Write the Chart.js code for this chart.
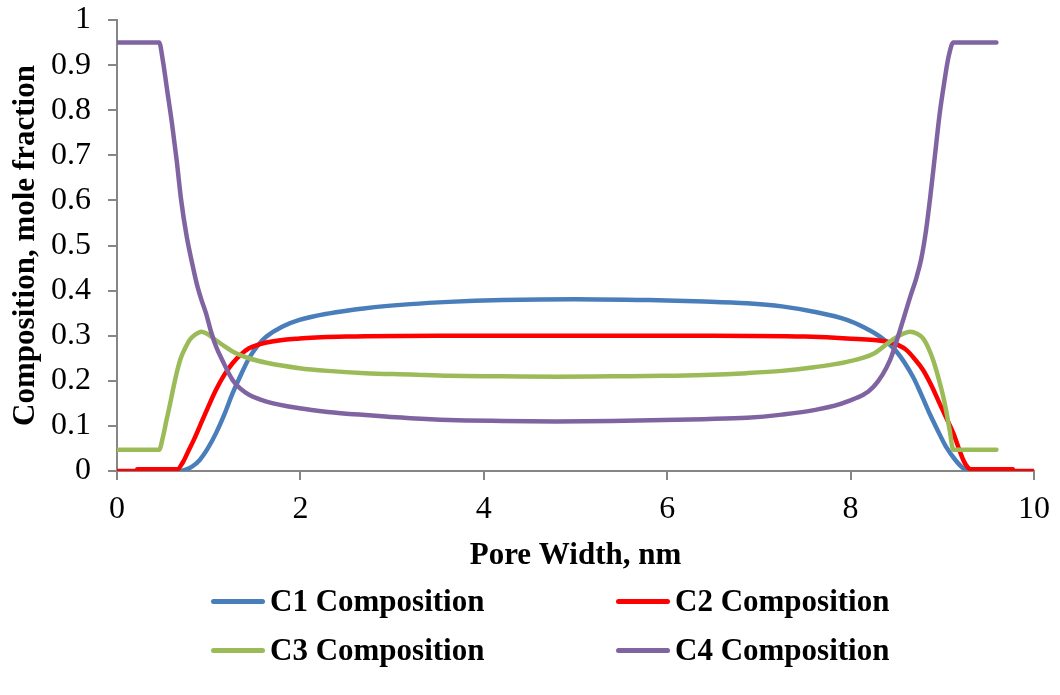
<!DOCTYPE html>
<html>
<head>
<meta charset="utf-8">
<title>Pore composition profile</title>
<script src="https://cdn.jsdelivr.net/npm/chart.js@4.4.1/dist/chart.umd.min.js"></script>
<style>
  body { margin: 0; background: #fff; }
  #wrap { position: relative; width: 1060px; height: 695px; }
  #legend {
    position: absolute; left: 0; top: 0; width: 100%; height: 100%;
    pointer-events: none;
    font: bold 31px "Liberation Serif", "Times New Roman", serif;
    color: #000;
  }
  .item { position: absolute; display: flex; align-items: center; height: 40px; white-space: nowrap; }
  .swatch { width: 54px; height: 5px; border-radius: 3px; margin-right: 5px; }
</style>
</head>
<body>
<div id="wrap">
  <canvas id="poreChart" width="1060" height="695"></canvas>
  <div id="legend"></div>
</div>
<script>
// composition profiles across the slit pore (x in nm, y in mole fraction)
const seriesNames = ["C1 Composition", "C2 Composition", "C3 Composition", "C4 Composition"];
const seriesColors = ["#4A7EBB", "#FF0000", "#9BBB59", "#8064A2"];

const c1X = [0.22, 0.68, 0.75, 0.82, 0.90, 0.99, 1.08, 1.17, 1.26, 1.35, 1.44, 1.53, 1.63, 1.80, 1.99, 2.3, 2.71, 3.2, 3.62, 4.2, 5.0, 5.8, 6.4, 6.87, 7.25, 7.60, 7.96, 8.15, 8.32, 8.50, 8.68, 8.77, 8.86, 8.95, 9.04, 9.14, 9.23, 9.31, 9.77];
const c1Y = [0, 0, 0.003, 0.01, 0.024, 0.05, 0.084, 0.125, 0.172, 0.213, 0.25, 0.277, 0.298, 0.32, 0.335, 0.349, 0.361, 0.370, 0.375, 0.379, 0.381, 0.379, 0.376, 0.372, 0.365, 0.353, 0.335, 0.318, 0.298, 0.265, 0.209, 0.17, 0.128, 0.09, 0.054, 0.025, 0.006, 0, 0];

const c2X = [0, 0.21, 0.22, 0.66, 0.72, 0.78, 0.84, 0.90, 0.99, 1.08, 1.17, 1.26, 1.35, 1.44, 1.63, 1.99, 2.5, 3.5, 5.0, 6.5, 7.5, 7.96, 8.39, 8.52, 8.61, 8.70, 8.79, 8.88, 8.97, 9.05, 9.12, 9.18, 9.23, 9.27, 9.31, 9.77, 9.78, 10];
const c2Y = [0, 0, 0.004, 0.004, 0.02, 0.045, 0.07, 0.098, 0.14, 0.18, 0.213, 0.239, 0.258, 0.272, 0.285, 0.294, 0.298, 0.300, 0.300, 0.300, 0.298, 0.294, 0.287, 0.279, 0.268, 0.248, 0.224, 0.19, 0.15, 0.115, 0.084, 0.05, 0.024, 0.01, 0.004, 0.004, 0, 0];

const c3X = [0, 0.46, 0.50, 0.54, 0.58, 0.61, 0.66, 0.70, 0.75, 0.79, 0.85, 0.92, 1.00, 1.08, 1.17, 1.26, 1.44, 1.63, 1.99, 2.3, 2.71, 3.2, 3.62, 4.2, 4.79, 5.4, 5.96, 6.4, 6.87, 7.25, 7.60, 7.96, 8.25, 8.43, 8.55, 8.65, 8.72, 8.79, 8.85, 8.90, 8.96, 9.01, 9.05, 9.08, 9.12, 9.59];
const c3Y = [0.047, 0.047, 0.075, 0.113, 0.15, 0.18, 0.225, 0.253, 0.275, 0.29, 0.302, 0.309, 0.302, 0.29, 0.277, 0.265, 0.25, 0.24, 0.228, 0.222, 0.217, 0.214, 0.211, 0.21, 0.209, 0.21, 0.211, 0.213, 0.217, 0.222, 0.23, 0.242, 0.26, 0.287, 0.302, 0.309, 0.305, 0.294, 0.272, 0.246, 0.205, 0.165, 0.125, 0.091, 0.047, 0.047];

const c4X = [0, 0.46, 0.50, 0.55, 0.60, 0.65, 0.70, 0.76, 0.82, 0.87, 0.92, 0.97, 1.03, 1.08, 1.15, 1.26, 1.35, 1.44, 1.63, 1.99, 2.3, 2.71, 3.2, 3.62, 4.2, 4.79, 5.4, 5.96, 6.4, 6.87, 7.25, 7.60, 7.96, 8.25, 8.43, 8.54, 8.65, 8.72, 8.77, 8.82, 8.87, 8.92, 8.97, 9.02, 9.07, 9.12, 9.59];
const c4Y = [0.95, 0.95, 0.91, 0.84, 0.77, 0.69, 0.60, 0.52, 0.46, 0.415, 0.38, 0.35, 0.306, 0.276, 0.245, 0.202, 0.182, 0.169, 0.154, 0.139, 0.131, 0.124, 0.117, 0.113, 0.111, 0.110, 0.111, 0.113, 0.115, 0.118, 0.125, 0.135, 0.154, 0.187, 0.246, 0.313, 0.386, 0.43, 0.47, 0.53, 0.61, 0.70, 0.79, 0.86, 0.92, 0.95, 0.95];

const xTickLabels = ["0", "2", "4", "6", "8", "10"];
const yTickLabels = ["0", "0.1", "0.2", "0.3", "0.4", "0.5", "0.6", "0.7", "0.8", "0.9", "1"];

const allX = [c1X, c2X, c3X, c4X];
const allY = [c1Y, c2Y, c3Y, c4Y];

const axisGray = "#868686";
const serif = "'Liberation Serif', 'Times New Roman', serif";

const datasets = seriesNames.map((name, i) => ({
  label: name,
  data: allX[i].map((x, j) => ({ x: x, y: allY[i][j] })),
  borderColor: seriesColors[i],
  backgroundColor: seriesColors[i],
  borderWidth: 4.5,
  borderCapStyle: "round",
  borderJoinStyle: "round",
  pointRadius: 0,
  cubicInterpolationMode: "monotone",
  fill: false,
  // later series sit on top, like the source workbook
  order: seriesNames.length - 1 - i
}));

// outside tick marks, no gridlines inside the plot
const axisGrid = {
  drawOnChartArea: false,
  drawTicks: true,
  tickLength: 9,
  color: axisGray,
  tickColor: axisGray,
  lineWidth: 2,
  tickWidth: 2
};

const ctx = document.getElementById("poreChart").getContext("2d");
const chart = new Chart(ctx, {
  type: "line",
  data: { datasets: datasets },
  options: {
    responsive: false,
    animation: false,
    devicePixelRatio: 1,
    layout: { padding: { left: 0, right: 22, top: 20, bottom: 120 } },
    plugins: {
      legend: { display: false },
      tooltip: { enabled: false }
    },
    scales: {
      x: {
        type: "linear",
        min: 0,
        max: 10,
        afterFit: (scale) => { scale.height = 104; },
        ticks: {
          stepSize: 2,
          padding: 10,
          color: "#000",
          font: { family: serif, size: 32 },
          callback: (value, index) => xTickLabels[index]
        },
        grid: axisGrid,
        border: { display: true, color: axisGray, width: 2 },
        title: {
          display: true,
          text: "Pore Width, nm",
          color: "#000",
          padding: { top: 0, bottom: 0 },
          font: { family: serif, size: 31, weight: "bold" }
        }
      },
      y: {
        min: 0,
        max: 1,
        // fixed axis width; top/bottom label overhang handled by layout padding
        afterFit: (scale) => {
          scale.width = 117;
          scale.paddingTop = 0;
          scale.paddingBottom = 0;
        },
        ticks: {
          stepSize: 0.1,
          padding: 17,
          color: "#000",
          font: { family: serif, size: 32 },
          callback: (value, index) => yTickLabels[index]
        },
        grid: axisGrid,
        border: { display: true, color: axisGray, width: 2 },
        title: {
          display: true,
          text: "Composition, mole fraction",
          color: "#000",
          padding: { top: 7, bottom: 0 },
          font: { family: serif, size: 31, weight: "bold" }
        }
      }
    }
  }
});

// two-column legend under the plot
const legendSlots = [[211, 581], [616, 581], [211, 630], [616, 630]];
const legendBox = document.getElementById("legend");
chart.data.datasets.forEach((ds, i) => {
  const item = document.createElement("div");
  item.className = "item";
  item.style.left = legendSlots[i][0] + "px";
  item.style.top = legendSlots[i][1] + "px";
  const swatch = document.createElement("span");
  swatch.className = "swatch";
  swatch.style.background = ds.borderColor;
  const label = document.createElement("span");
  label.textContent = ds.label;
  item.appendChild(swatch);
  item.appendChild(label);
  legendBox.appendChild(item);
});
</script>
</body>
</html>
